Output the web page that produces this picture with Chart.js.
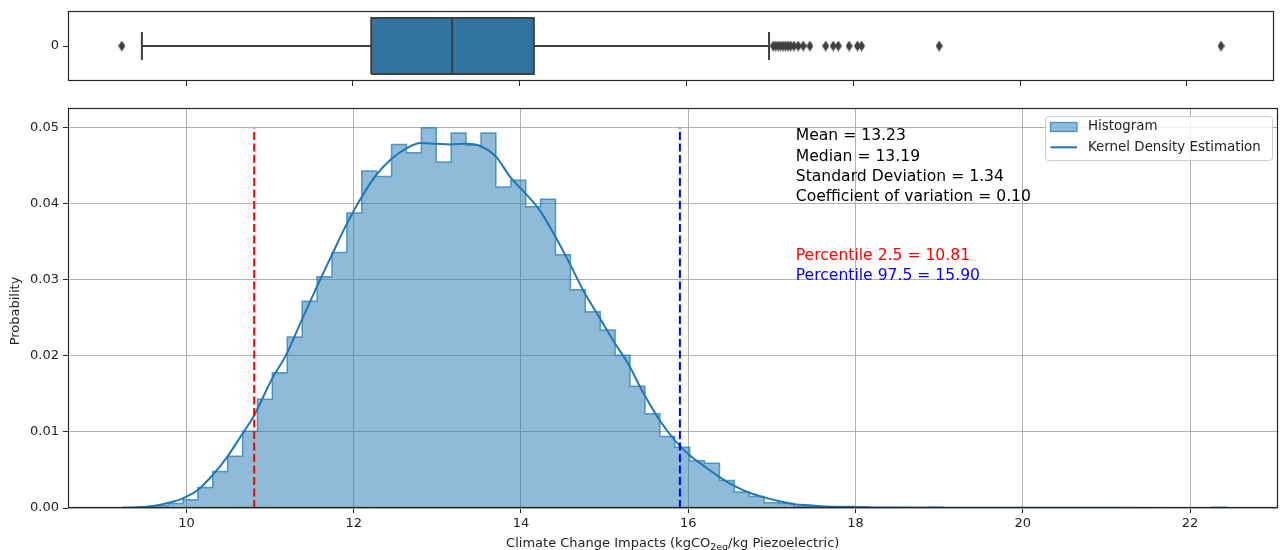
<!DOCTYPE html>
<html lang="en">
<head>
  <meta charset="UTF-8" />
  <title>Climate Change Impacts distribution</title>
  <script src="https://cdn.jsdelivr.net/npm/chart.js"></script>
  <style>
    body { margin: 0; background: #fff; }
    #wrap { position: relative; width: 1280px; height: 550px; overflow: hidden; }
    #boxChart { position: absolute; left: 0; top: 0; }
    #histChart { position: absolute; left: 0; top: 100px; }
  </style>
</head>
<body>
  <div id="wrap">
    <canvas id="boxChart" width="1280" height="100"></canvas>
    <canvas id="histChart" width="1280" height="450"></canvas>
  </div>

  <script>
    // ---- data ----
    const binStart = 9.245;
    const binWidth = 0.1782;
    const binProb = [
      0.00005, 0.0001, 0.0003, 0.0006, 0.0011, 0.0027, 0.0048, 0.0068, 0.0101, 0.0143,
      0.0178, 0.0225, 0.0272, 0.0304, 0.0336, 0.0388, 0.0443, 0.0436, 0.0478, 0.0467,
      0.0500, 0.0455, 0.0493, 0.0477, 0.0493, 0.0422, 0.0431, 0.0396, 0.0406, 0.0333,
      0.0287, 0.0258, 0.0234, 0.0201, 0.0160, 0.0124, 0.0094, 0.0080, 0.0062, 0.0059,
      0.0036, 0.0021, 0.0015, 0.0007, 0.0006, 0.0002, 0.0002, 0.0002, 0.0002, 0.0001,
      0, 0, 0, 0, 0.0001, 0, 0, 0, 0, 0,
      0, 0, 0, 0, 0, 0, 0, 0, 0, 0,
      0, 0, 0, 0.0001
    ];
    const kdeX = [
      9.23, 9.42, 9.60, 9.78, 9.95, 10.14, 10.31, 10.48, 10.66, 10.80,
      11.02, 11.20, 11.37, 11.56, 11.74, 11.91, 12.09, 12.27, 12.45, 12.63,
      12.80, 12.98, 13.16, 13.34, 13.51, 13.70, 13.88, 14.05, 14.22, 14.40,
      14.58, 14.75, 14.93, 15.12, 15.29, 15.42, 15.49, 15.66, 15.84, 16.02,
      16.19, 16.37, 16.55, 16.73, 16.91, 17.09, 17.27, 17.45, 17.63, 17.90,
      18.20, 18.60, 19.20, 20.00, 21.00, 22.41
    ];
    const kdeY = [
      0.00003, 0.0001, 0.00027, 0.00066, 0.00124, 0.0024, 0.0043, 0.0066, 0.0096, 0.0120,
      0.0169, 0.0203, 0.0245, 0.0291, 0.0333, 0.0372, 0.0408, 0.0438, 0.0459, 0.0473,
      0.0480, 0.0479, 0.0478, 0.0479, 0.0476, 0.0462, 0.0434, 0.0414, 0.0392, 0.0359,
      0.0322, 0.0285, 0.0252, 0.0217, 0.0188, 0.0160, 0.0146, 0.0115, 0.0089, 0.0069,
      0.0055, 0.0041, 0.0029, 0.0020, 0.0014, 0.0009, 0.0005, 0.00035, 0.0002, 0.00012,
      0.00008, 0.00005, 0.00004, 0.00002, 0.00002, 0.00001
    ];
    // whisker low, Q1, median, Q3, whisker high
    const boxStats = [9.47, 12.22, 13.19, 14.17, 16.99];
    const outliers = [
      9.23, 17.04, 17.07, 17.10, 17.13, 17.16, 17.19, 17.22, 17.25, 17.29, 17.34,
      17.40, 17.48, 17.67, 17.76, 17.82, 17.95, 18.05, 18.10, 19.03, 22.41
    ];
    const percentiles = [10.81, 15.90];
    const pctLineTop = 0.05;
    const xTicks = [10, 12, 14, 16, 18, 20, 22];
    const yTicks = [0, 0.01, 0.02, 0.03, 0.04, 0.05];
    const statLines = [
      'Mean = 13.23',
      'Median = 13.19',
      'Standard Deviation = 1.34',
      'Coefficient of variation = 0.10'
    ];
    const pctLines = ['Percentile 2.5 = 10.81', 'Percentile 97.5 = 15.90'];
    const legendLabels = ['Histogram', 'Kernel Density Estimation'];

    // ---- shared settings ----
    const FONT = '"DejaVu Sans", sans-serif';
    Chart.defaults.font.family = FONT;
    Chart.defaults.font.size = 13;
    Chart.defaults.color = '#222';
    Chart.defaults.animation = false;

    const X_MIN = 8.584, X_MAX = 23.045;
    const tab = 'rgba(31,119,180,';
    const pctColors = ['#ff0000', '#0000ff'];
    const axisDark = '#262626';

    const frame = {
      id: 'frame',
      afterDraw(chart) {
        const a = chart.chartArea, ctx = chart.ctx;
        ctx.save();
        ctx.strokeStyle = axisDark;
        ctx.lineWidth = 1.2;
        ctx.strokeRect(Math.round(a.left) + 0.5, Math.round(a.top) + 0.5,
          Math.round(a.right - a.left) - 1, Math.round(a.bottom - a.top) - 1);
        ctx.restore();
      }
    };

    function xScale(showLabels, height, gridOn) {
      return {
        type: 'linear', min: X_MIN, max: X_MAX,
        afterBuildTicks: s => { s.ticks = xTicks.map(v => ({ value: v })); },
        afterFit: s => { s.height = height; s.paddingLeft = 0; s.paddingRight = 0; },
        ticks: { padding: 3, maxRotation: 0, callback: v => showLabels ? String(v) : '' },
        grid: { drawOnChartArea: gridOn, color: '#b0b0b0', lineWidth: 1, tickLength: 5, tickColor: axisDark },
        border: { display: false }
      };
    }

    // ---- top: box plot ----
    function thinDiamond(w, h, color) {
      const c = document.createElement('canvas');
      c.width = w; c.height = h;
      const g = c.getContext('2d');
      g.fillStyle = color;
      g.beginPath();
      g.moveTo(w / 2, 0); g.lineTo(w, h / 2); g.lineTo(w / 2, h); g.lineTo(0, h / 2);
      g.closePath(); g.fill();
      return c;
    }

    const [whisLo, q1, med, q3, whisHi] = boxStats;
    const BOX = 0.4, CAP = 0.2;
    const boxLine = '#3f3f3f';
    const seg = (pts, extra) => Object.assign({
      data: pts, borderColor: boxLine, borderWidth: 2, pointRadius: 0, tension: 0, fill: false
    }, extra || {});

    new Chart(document.getElementById('boxChart'), {
      type: 'line',
      data: {
        datasets: [
          seg([{ x: q1, y: BOX }, { x: q3, y: BOX }],
            { fill: { value: -BOX }, backgroundColor: '#3274a1', borderWidth: 0, order: 9 }),
          seg([{ x: q1, y: -BOX }, { x: q3, y: -BOX }, { x: q3, y: BOX }, { x: q1, y: BOX }, { x: q1, y: -BOX }]),
          seg([{ x: med, y: -BOX }, { x: med, y: BOX }]),
          seg([{ x: whisLo, y: 0 }, { x: q1, y: 0 }]),
          seg([{ x: q3, y: 0 }, { x: whisHi, y: 0 }]),
          seg([{ x: whisLo, y: -CAP }, { x: whisLo, y: CAP }]),
          seg([{ x: whisHi, y: -CAP }, { x: whisHi, y: CAP }]),
          {
            data: outliers.map(v => ({ x: v, y: 0 })), showLine: false,
            pointStyle: thinDiamond(7, 11, boxLine), pointRadius: 5
          }
        ]
      },
      options: {
        responsive: false,
        layout: { padding: { top: 11, right: 2.5, left: 0, bottom: 0 } },
        plugins: { legend: { display: false }, tooltip: { enabled: false } },
        scales: {
          x: xScale(false, 19, false),
          y: {
            type: 'linear', min: -0.5, max: 0.5,
            afterBuildTicks: s => { s.ticks = [{ value: 0 }]; },
            afterFit: s => { s.width = 68; s.paddingTop = 0; s.paddingBottom = 0; },
            ticks: { padding: 4 },
            grid: { drawOnChartArea: false, tickLength: 5, tickColor: axisDark },
            border: { display: false }
          }
        }
      },
      plugins: [frame]
    });

    // ---- bottom: histogram + KDE ----
    const histPoints = [{ x: binStart, y: 0 }];
    binProb.forEach((p, i) => histPoints.push({ x: binStart + i * binWidth, y: p }));
    histPoints.push({ x: binStart + binProb.length * binWidth, y: 0 });

    const annotations = {
      id: 'annotations',
      afterDraw(chart) {
        const ctx = chart.ctx, xs = chart.scales.x, ys = chart.scales.y, a = chart.chartArea;
        ctx.save();

        // stats block
        const tx = xs.getPixelForValue(17.285);
        const top = ys.getPixelForValue(0.05);
        ctx.font = '15.6px ' + FONT;
        ctx.textBaseline = 'middle';
        ctx.textAlign = 'left';
        ctx.fillStyle = '#000';
        statLines.forEach((t, i) => ctx.fillText(t, tx, top + 8.3 + i * 20.4));
        const pBase = ys.getPixelForValue(0.03);
        pctLines.forEach((t, i) => {
          ctx.fillStyle = pctColors[i];
          ctx.fillText(t, tx, pBase - 24.1 + i * 20);
        });

        // legend
        const lx = 1045.5, ly = 16.5, lw = 227, lh = 44;
        ctx.beginPath();
        ctx.roundRect(lx, ly, lw, lh, 3);
        ctx.fillStyle = 'rgba(255,255,255,0.8)';
        ctx.fill();
        ctx.strokeStyle = '#cccccc';
        ctx.lineWidth = 1;
        ctx.stroke();
        ctx.fillStyle = tab + '0.5)';
        ctx.fillRect(1050.5, 22.5, 26.5, 9);
        ctx.strokeStyle = tab + '0.75)';
        ctx.lineWidth = 1.3;
        ctx.strokeRect(1050.5, 22.5, 26.5, 9);
        ctx.strokeStyle = '#1f77b4';
        ctx.lineWidth = 2;
        ctx.beginPath(); ctx.moveTo(1050.5, 47.3); ctx.lineTo(1077, 47.3); ctx.stroke();
        ctx.font = '13.4px ' + FONT;
        ctx.fillStyle = '#222';
        ctx.fillText(legendLabels[0], 1088, 26.5);
        ctx.fillText(legendLabels[1], 1088, 47.5);

        // axis titles
        ctx.font = '13px ' + FONT;
        ctx.textAlign = 'center';
        ctx.save();
        ctx.translate(16, 211);
        ctx.rotate(-Math.PI / 2);
        ctx.fillText('Probability', 0, 0);
        ctx.restore();

        const parts = [['Climate Change Impacts (kgCO', 13, 0], ['2eq', 9.5, 3], ['/kg Piezoelectric)', 13, 0]];
        let total = 0;
        parts.forEach(p => { ctx.font = p[1] + 'px ' + FONT; total += ctx.measureText(p[0]).width; });
        let cx = (a.left + a.right) / 2 - total / 2;
        ctx.textAlign = 'left';
        ctx.textBaseline = 'alphabetic';
        parts.forEach(p => {
          ctx.font = p[1] + 'px ' + FONT;
          ctx.fillText(p[0], cx, 447 + p[2]);
          cx += ctx.measureText(p[0]).width;
        });
        ctx.restore();
      }
    };

    new Chart(document.getElementById('histChart'), {
      type: 'line',
      data: {
        datasets: [
          {
            label: legendLabels[0], data: histPoints, stepped: true, fill: 'origin',
            backgroundColor: tab + '0.5)', borderColor: tab + '0.7)', borderWidth: 1.5,
            pointRadius: 0, order: 3
          },
          {
            label: legendLabels[1], data: kdeX.map((x, i) => ({ x: x, y: kdeY[i] })),
            borderColor: '#1f77b4', borderWidth: 2, cubicInterpolationMode: 'monotone',
            pointRadius: 0, fill: false, order: 2
          },
          ...percentiles.map((p, i) => ({
            data: [{ x: p, y: 0 }, { x: p, y: pctLineTop }],
            borderColor: pctColors[i], borderWidth: 2, borderDash: [8, 3.5],
            pointRadius: 0, fill: false, order: 1
          }))
        ]
      },
      options: {
        responsive: false,
        layout: { padding: { top: 8, right: 2.5, left: 0, bottom: 0 } },
        plugins: { legend: { display: false }, tooltip: { enabled: false } },
        scales: {
          x: xScale(true, 42, true),
          y: {
            type: 'linear', min: 0, max: 0.0526,
            afterBuildTicks: s => { s.ticks = yTicks.map(v => ({ value: v })); },
            afterFit: s => { s.width = 68; s.paddingTop = 0; s.paddingBottom = 0; },
            ticks: { padding: 4, callback: v => v.toFixed(2) },
            grid: { color: '#b0b0b0', lineWidth: 1, tickLength: 5, tickColor: axisDark },
            border: { display: false }
          }
        }
      },
      plugins: [frame, annotations]
    });
  </script>
</body>
</html>
